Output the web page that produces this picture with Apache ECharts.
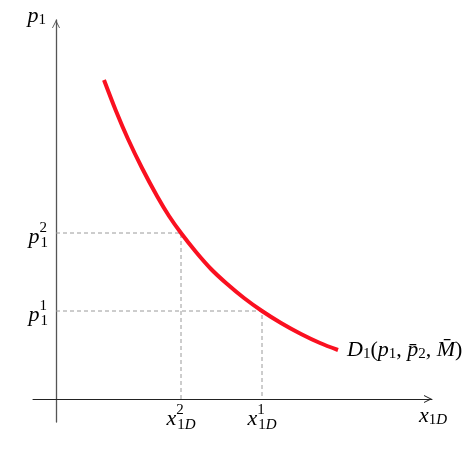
<!DOCTYPE html>
<html><head><meta charset="utf-8">
<script src="https://cdn.jsdelivr.net/npm/echarts@6/dist/echarts.min.js"></script>
<style>html,body{margin:0;padding:0;background:#fff}#c{width:475px;height:449px}</style>
</head><body><div id="c"></div>
<script>
// Demand curve D1
const curveX = [48, 60, 72, 86, 101, 113, 125, 140, 155, 170, 188, 206, 225, 245, 264, 282];
const curveY = [319, 288, 260, 231, 203, 183, 166, 147, 130, 116, 101, 88, 76, 65, 56, 49];
// Marked points (x_1D^2, p_1^2) and (x_1D^1, p_1^1)
const xTickValues = [125, 206];
const yTickValues = [166, 88];
const xTickLabels = ['{v|x}{sup|2}{sub|1}{subi|D}', '{v|x}{sup|1}{sub|1}{subi|D}'];
const yTickLabels = ['{v|p}{sup|2}{sub|1}', '{v|p}{sup|1}{sub|1}'];
const xAxisName = '{v|x}{sb|1}{sbi|D}';
const yAxisName = '{v|p}{sb|1}';
const curveName = '{v|D}{sb|1}{n|(}{v|p}{sb|1}{n|, }{v|p\u0304}{sb|2}{n|, }{v|M\u0304}{n|)}';

const F = 'Liberation Serif';
const tok = (o) => Object.assign({fontFamily: F, lineHeight: 22, color: '#000', align: 'left', verticalAlign: 'middle'}, o);
const rich = {
  v: tok({fontStyle: 'italic', fontSize: 22}),
  n: tok({fontSize: 22}),
  sup: tok({fontSize: 15, width: 1, padding: [0, 0, 18, 0]}),
  sub: tok({fontSize: 15, padding: [12, 0, 0, 0]}),
  subi: tok({fontStyle: 'italic', fontSize: 15, padding: [12, 0, 0, 0]}),
  sb: tok({fontSize: 15, padding: [9, 0, 0, 0]}),
  sbi: tok({fontStyle: 'italic', fontSize: 15, padding: [9, 0, 0, 0]})
};
const arrow = 'path://M0,10 L5,0 L10,10 L8.9,10 L5,2.6 L1.1,10 Z';

const dashSeries = xTickValues.map((xv, i) => ({
  type: 'line',
  data: [[0, yTickValues[i]], [xv, yTickValues[i]], [xv, 0]],
  symbol: 'none',
  silent: true,
  lineStyle: {color: '#9a9a9a', width: 1, type: [4, 3]},
  z: 1
}));

const chart = echarts.init(document.getElementById('c'), null, {renderer: 'canvas'});
chart.setOption({
  animation: false,
  backgroundColor: '#fff',
  grid: {left: 33, right: 43, top: 20, bottom: 27, containLabel: false, outerBoundsMode: 'none'},
  xAxis: {
    type: 'value', min: -23, max: 376,
    offset: -23,
    splitLine: {show: false},
    axisTick: {show: false},
    axisLine: {show: true, onZero: false, lineStyle: {color: '#222', width: 1},
      symbol: ['none', arrow], symbolSize: [9, 8], symbolOffset: [0, -4]},
    axisLabel: {
      customValues: xTickValues, margin: 9, verticalAlign: 'top',
      formatter: v => xTickLabels[xTickValues.indexOf(v)] || '',
      rich: rich
    },
    name: xAxisName, nameLocation: 'end', nameGap: 1, nameMoveOverlap: false,
    nameTextStyle: {align: 'center', verticalAlign: 'top', padding: [6, 0, 0, 0], rich: rich}
  },
  yAxis: {
    type: 'value', min: -23, max: 379,
    offset: -23,
    splitLine: {show: false},
    axisTick: {show: false},
    axisLine: {show: true, onZero: false, lineStyle: {color: '#555', width: 1.3},
      symbol: ['none', arrow], symbolSize: [9, 8], symbolOffset: [0, -4]},
    axisLabel: {
      customValues: yTickValues, margin: 8,
      padding: [8, 0, 0, 0],
      formatter: v => yTickLabels[yTickValues.indexOf(v)] || '',
      rich: rich
    },
    name: yAxisName, nameLocation: 'end', nameGap: 4, nameMoveOverlap: false,
    nameTextStyle: {align: 'right', verticalAlign: 'middle', padding: [0, 10, 0, 0], rich: rich}
  },
  series: [
    ...dashSeries,
    {
      type: 'line',
      data: curveX.map((x, i) => [x, curveY[i]]),
      smooth: 0.3,
      symbol: 'none',
      lineStyle: {color: '#fa1020', width: 4},
      z: 3,
      endLabel: {show: true, distance: 9, formatter: () => curveName, rich: rich}
    }
  ]
});
</script></body></html>
